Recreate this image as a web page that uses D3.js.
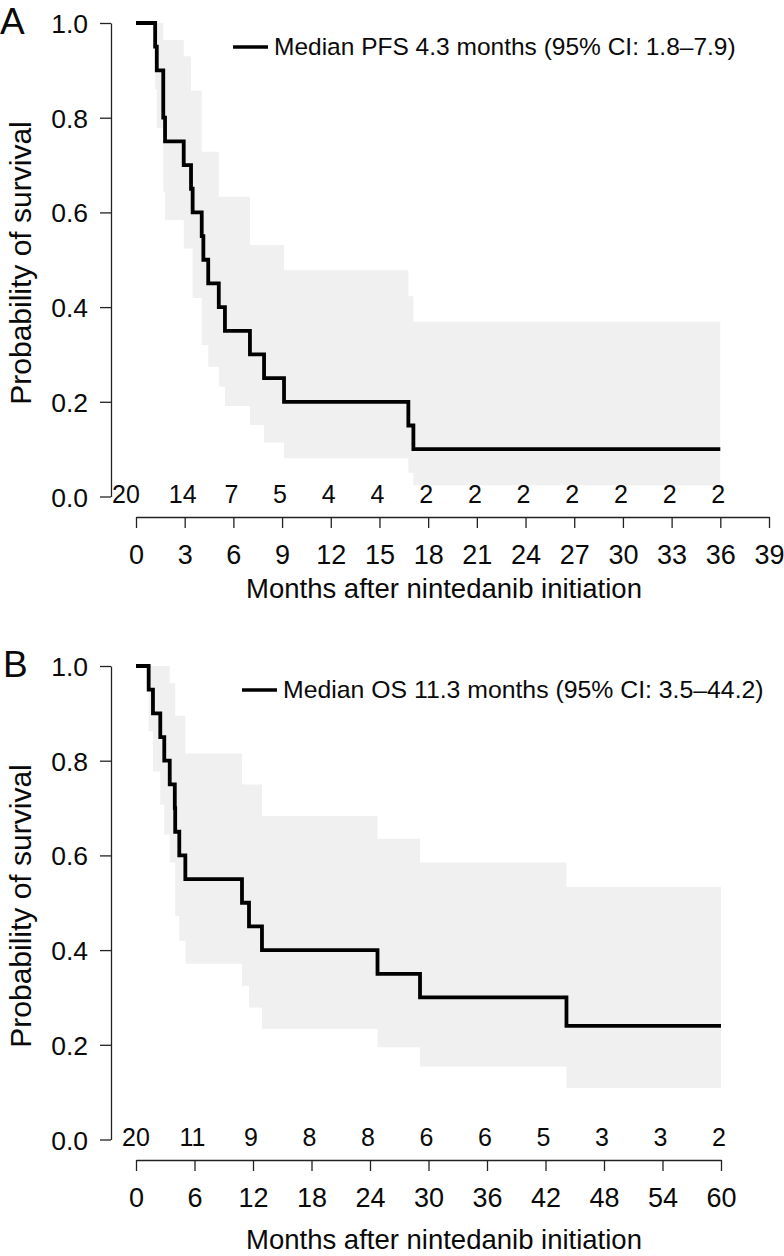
<!DOCTYPE html>
<html>
<head>
<meta charset="utf-8">
<script src="https://cdn.jsdelivr.net/npm/d3@7"></script>
<style>
  body { margin: 0; background: #fff; }
  svg { display: block; }
  text { font-family: "Liberation Sans", Arial, Helvetica, sans-serif; fill: #0a0a0a; }
</style>
</head>
<body>
<svg id="km" width="784" height="1256"></svg>
<script>
// ---- panel A: progression-free survival (months, survival, 95% CI band)
const pfsTime  = [0, 1.18, 1.28, 1.68, 1.79, 2.94, 3.39, 3.49, 4.05, 4.15, 4.45, 5.10, 5.48, 7.02, 7.89, 9.12, 16.78, 17.09, 36];
const pfsSurv  = [1, 0.95, 0.90, 0.80, 0.75, 0.70, 0.65, 0.60, 0.55, 0.50, 0.45, 0.40, 0.35, 0.30, 0.25, 0.20, 0.15, 0.10, 0.10];
const pfsUpper = [1, 1, 1, 0.964, 0.964, 0.930, 0.857, 0.857, 0.728, 0.728, 0.728, 0.633, 0.633, 0.531, 0.531, 0.478, 0.423, 0.369, 0.369];
const pfsLower = [1, 0.860, 0.778, 0.644, 0.584, 0.524, 0.524, 0.419, 0.320, 0.320, 0.274, 0.232, 0.191, 0.151, 0.114, 0.081, 0.050, 0.024, 0.024];
const pfsTicks = [0, 3, 6, 9, 12, 15, 18, 21, 24, 27, 30, 33, 36, 39];
const pfsRisk  = [20, 14, 7, 5, 4, 4, 2, 2, 2, 2, 2, 2, 2];
const pfsLegend = 'Median PFS 4.3 months (95% CI: 1.8–7.9)';

// ---- panel B: overall survival
const osTime  = [0, 1.30, 1.74, 2.49, 2.90, 3.46, 3.98, 4.02, 4.44, 5.06, 10.87, 11.59, 12.92, 24.77, 29.13, 44.15, 60];
const osSurv  = [1, 0.95, 0.90, 0.85, 0.80, 0.75, 0.70, 0.65, 0.60, 0.55, 0.50, 0.45, 0.40, 0.35, 0.30, 0.24, 0.24];
const osUpper = [1, 1, 1, 1, 1, 0.964, 0.964, 0.895, 0.895, 0.815, 0.750, 0.750, 0.683, 0.635, 0.585, 0.533, 0.533];
const osLower = [1, 0.862, 0.777, 0.707, 0.644, 0.585, 0.585, 0.472, 0.420, 0.371, 0.324, 0.279, 0.234, 0.195, 0.154, 0.109, 0.109];
const osTicks = [0, 6, 12, 18, 24, 30, 36, 42, 48, 54, 60];
const osRisk  = [20, 11, 9, 8, 8, 6, 6, 5, 3, 3, 2];
const osLegend = 'Median OS 11.3 months (95% CI: 3.5–44.2)';

const probTicks = [0, 0.2, 0.4, 0.6, 0.8, 1.0];
const xTitle = 'Months after nintedanib initiation';
const yTitle = 'Probability of survival';

const svg = d3.select('#km');

function drawPanel(p) {
  const x = d3.scaleLinear().domain([0, p.ticks[p.ticks.length - 1]]).range([136, p.xEnd]);
  const y = d3.scaleLinear().domain([0, 1]).range([p.top + 473.5, p.top]);
  const g = svg.append('g');

  const pts = p.time.map((t, i) => ({ t, s: p.surv[i], lo: p.lower[i], hi: p.upper[i] }));

  // confidence band
  g.append('path')
    .datum(pts)
    .attr('fill', '#f0f0f0')
    .attr('d', d3.area().curve(d3.curveStepAfter)
      .x(d => x(d.t)).y0(d => y(d.lo)).y1(d => y(d.hi)));

  // y axis
  const left = g.append('g')
    .attr('transform', 'translate(111,0)')
    .call(d3.axisLeft(y).tickValues(probTicks).tickFormat(d3.format('.1f'))
      .tickSize(11).tickPadding(12).tickSizeOuter(0));
  left.selectAll('text').attr('font-size', 26.5).attr('fill', '#0a0a0a').attr('dy', '0.36em');

  // x axis
  const axisY = p.top + 494;
  const bottom = g.append('g')
    .attr('transform', `translate(0,${axisY})`)
    .call(d3.axisBottom(x).tickValues(p.ticks).tickSize(11).tickPadding(17).tickSizeOuter(0));
  bottom.selectAll('text').attr('font-size', 27).attr('fill', '#0a0a0a');
  [left, bottom].forEach(a => {
    a.selectAll('path, line').attr('stroke', '#222').attr('stroke-width', 1.3);
  });

  // survival curve
  g.append('path')
    .datum(pts)
    .attr('fill', 'none')
    .attr('stroke', '#000')
    .attr('stroke-width', 3.8)
    .attr('stroke-linejoin', 'miter')
    .attr('d', d3.line().curve(d3.curveStepAfter).x(d => x(d.t)).y(d => y(d.s)));

  // numbers at risk
  g.append('g')
    .selectAll('text')
    .data(p.risk)
    .join('text')
    .attr('x', (d, i) => x(p.ticks[i]))
    .attr('dx', (d, i) => (i === 0 ? p.firstRiskDx : -2))
    .attr('y', p.top + 480)
    .attr('text-anchor', 'middle')
    .attr('font-size', 25)
    .text(d => d);

  // legend
  g.append('line')
    .attr('x1', p.legX).attr('x2', p.legX + 35)
    .attr('y1', p.top + 24).attr('y2', p.top + 24)
    .attr('stroke', '#000').attr('stroke-width', 3.3);
  g.append('text')
    .attr('x', p.legX + 41).attr('y', p.top + 32)
    .attr('font-size', p.legSize)
    .text(p.legend);

  // axis titles and panel letter
  g.append('text')
    .attr('x', 444).attr('y', p.titleY)
    .attr('text-anchor', 'middle')
    .attr('font-size', 27.5)
    .text(xTitle);
  g.append('text')
    .attr('transform', `translate(31,${p.top + 240}) rotate(-90)`)
    .attr('text-anchor', 'middle')
    .attr('font-size', 30)
    .text(yTitle);
  g.append('text')
    .attr('x', p.letterX).attr('y', p.top + 11)
    .attr('font-size', 37)
    .text(p.letter);
}

drawPanel({ letter: 'A', letterX: 0, top: 23, xEnd: 769, titleY: 598, firstRiskDx: -10, legX: 233, legSize: 24.5,
  time: pfsTime, surv: pfsSurv, upper: pfsUpper, lower: pfsLower, ticks: pfsTicks, risk: pfsRisk, legend: pfsLegend });
drawPanel({ letter: 'B', letterX: 3, top: 666, xEnd: 721, titleY: 1249, firstRiskDx: 0, legX: 242, legSize: 24.8,
  time: osTime, surv: osSurv, upper: osUpper, lower: osLower, ticks: osTicks, risk: osRisk, legend: osLegend });
</script>
</body>
</html>
